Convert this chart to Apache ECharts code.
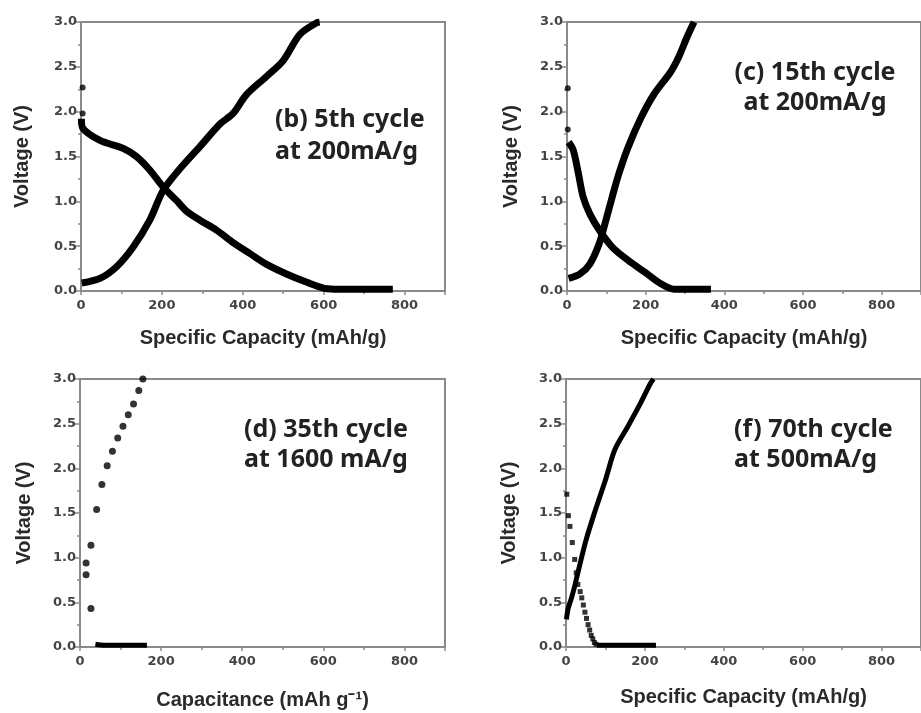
<!DOCTYPE html>
<html>
<head>
<meta charset="utf-8">
<script src="https://cdn.jsdelivr.net/npm/echarts@6/dist/echarts.min.js"></script>
<style>
  html, body { margin: 0; padding: 0; background: #fff; }
  #chart { width: 921px; height: 713px; }
</style>
</head>
<body>
<div id="chart"></div>
<script>
// (b) 5th cycle at 200 mA/g
const bDots = [[4, 2.27], [4, 1.98]]
const bDischarge = [[1, 1.92], [4, 1.82], [47, 1.68], [105, 1.59], [137, 1.50], [170, 1.35], [203, 1.16], [236, 1.01], [261, 0.89], [294, 0.79], [335, 0.68], [376, 0.54], [417, 0.42], [458, 0.30], [508, 0.19], [557, 0.10], [602, 0.03], [640, 0.02], [771, 0.02]]
const bCharge = [[2, 0.09], [47, 0.14], [88, 0.27], [129, 0.49], [170, 0.79], [203, 1.12], [244, 1.36], [294, 1.61], [343, 1.86], [376, 1.98], [409, 2.19], [458, 2.39], [500, 2.57], [541, 2.86], [582, 2.99], [590, 3.0]]

// (c) 15th cycle at 200 mA/g
const cDots = [[2, 2.26], [2, 1.80]]
const cDischarge = [[4, 1.66], [16, 1.57], [29, 1.31], [41, 1.05], [58, 0.86], [82, 0.68], [115, 0.49], [156, 0.34], [198, 0.21], [239, 0.08], [272, 0.02], [366, 0.02]]
const cCharge = [[4, 0.14], [33, 0.19], [58, 0.30], [82, 0.53], [99, 0.79], [115, 1.05], [132, 1.31], [156, 1.61], [189, 1.94], [222, 2.20], [263, 2.44], [284, 2.61], [305, 2.83], [323, 3.0]]

// (d) 35th cycle at 1600 mA/g
const dPoints = [[15, 0.94], [15, 0.81], [27, 1.14], [27, 0.43], [41, 1.54], [54, 1.82], [67, 2.03], [80, 2.19], [93, 2.34], [106, 2.47], [119, 2.60], [132, 2.72], [145, 2.87], [155, 3.0]]
const dFlat = [[38, 0.03], [60, 0.02], [100, 0.02], [140, 0.02], [165, 0.02]]

// (f) 70th cycle at 500 mA/g
const fDischargeDots = [[2, 1.71], [6, 1.47], [10, 1.35], [16, 1.17], [22, 0.98], [26, 0.83], [30, 0.70], [36, 0.62], [40, 0.55], [44, 0.47], [48, 0.39], [52, 0.32], [56, 0.25], [60, 0.19], [64, 0.13], [68, 0.09], [72, 0.05], [76, 0.03]]
const fDischargeFlat = [[78, 0.02], [120, 0.02], [180, 0.02], [228, 0.02]]
const fCharge = [[1, 0.31], [6, 0.44], [14, 0.55], [22, 0.68], [30, 0.83], [51, 1.20], [75, 1.54], [100, 1.87], [124, 2.21], [157, 2.47], [189, 2.73], [214, 2.95], [222, 3.0]]

const xTicks = [0, 200, 400, 600, 800]
const yTicks = [0.0, 0.5, 1.0, 1.5, 2.0, 2.5, 3.0]

const xNames = ['Specific Capacity (mAh/g)', 'Specific Capacity (mAh/g)', 'Capacitance (mAh g⁻¹)', 'Specific Capacity (mAh/g)']
const yName = 'Voltage (V)'

const grids = [
    { left: 81, top: 22, width: 364, height: 269 },
    { left: 567, top: 22, width: 364, height: 269 },
    { left: 80, top: 379, width: 365, height: 268 },
    { left: 566, top: 379, width: 365, height: 268 }
]
const xNameGaps = [37, 37, 43, 40]
const yNameGaps = [49, 46, 46, 47]

const axisGray = '#8a8a8a'
const labelFont = 'Liberation Sans, Arial, sans-serif'
const tickFont = 'DejaVu Sans, sans-serif'

const chart = echarts.init(document.getElementById('chart'))

const xAxes = grids.map((g, i) => ({
    type: 'value',
    gridIndex: i,
    min: 0,
    max: 900,
    interval: xTicks[1] - xTicks[0],
    name: xNames[i],
    nameLocation: 'middle',
    nameGap: xNameGaps[i],
    nameTextStyle: { fontFamily: labelFont, fontWeight: 'bold', fontSize: 20, color: '#2a2a2a' },
    axisLine: { show: true, lineStyle: { color: axisGray, width: 2 } },
    axisTick: { show: true, length: 4, lineStyle: { color: axisGray, width: 1.5 } },
    minorTick: { show: true, splitNumber: 2, length: 3, lineStyle: { color: axisGray, width: 1.5 } },
    splitLine: { show: false },
    axisLabel: {
        showMaxLabel: false,
        fontFamily: tickFont, fontWeight: 'bold', fontSize: 13, color: '#444', margin: 8,
        formatter: v => xTicks.includes(v) ? String(v) : ''
    }
}))

const yAxes = grids.map((g, i) => ({
    type: 'value',
    gridIndex: i,
    min: 0,
    max: 3,
    interval: 0.5,
    name: yName,
    nameLocation: 'middle',
    nameRotate: 90,
    nameGap: yNameGaps[i],
    nameTextStyle: { fontFamily: labelFont, fontWeight: 'bold', fontSize: 20, color: '#2a2a2a' },
    axisLine: { show: true, lineStyle: { color: axisGray, width: 2 } },
    axisTick: { show: true, length: 5, lineStyle: { color: axisGray, width: 1.5 } },
    minorTick: { show: true, splitNumber: 2, length: 3, lineStyle: { color: axisGray, width: 1.5 } },
    splitLine: { show: false },
    axisLabel: {
        fontFamily: tickFont, fontWeight: 'bold', fontSize: 13, color: '#444', margin: 4,
        formatter: v => yTicks.includes(v) ? v.toFixed(1) : ''
    }
}))

const thickLine = (data, i, w) => ({
    type: 'line', xAxisIndex: i, yAxisIndex: i, data,
    smooth: 0.3, showSymbol: false, symbol: 'none',
    lineStyle: { color: '#000', width: w }
})
const dots = (data, i, size, shape) => ({
    type: 'scatter', xAxisIndex: i, yAxisIndex: i, data,
    symbol: shape || 'circle', symbolSize: size,
    itemStyle: { color: '#000' }
})

const series = [
    thickLine(bDischarge, 0, 7),
    thickLine(bCharge, 0, 7),
    dots(bDots, 0, 6),
    thickLine(cDischarge, 1, 7),
    thickLine(cCharge, 1, 7),
    dots(cDots, 1, 6),
    dots(dPoints, 2, 7),
    thickLine(dFlat, 2, 5),
    dots(fDischargeDots, 3, 5, 'rect'),
    thickLine(fDischargeFlat, 3, 5),
    thickLine(fCharge, 3, 5)
]

const noteStyle = { fontFamily: 'Noto Sans, sans-serif', fontWeight: 'bold', fontSize: 25, fill: '#222', textVerticalAlign: 'middle' }
const note = (x, y, text, align) => ({
    type: 'text', x, y, z: 10,
    style: Object.assign({ text, textAlign: align || 'left' }, noteStyle)
})

chart.setOption({
    animation: false,
    grid: grids.map(g => Object.assign({ show: true, borderColor: axisGray, borderWidth: 2, backgroundColor: 'transparent' }, g)),
    xAxis: xAxes,
    yAxis: yAxes,
    series,
    graphic: [
        note(275, 120, '(b) 5th cycle'),
        note(275, 152, 'at 200mA/g'),
        note(815, 73, '(c) 15th cycle', 'center'),
        note(815, 103, 'at 200mA/g', 'center'),
        note(244, 430, '(d) 35th cycle'),
        note(244, 460, 'at 1600 mA/g'),
        note(734, 430, '(f) 70th cycle'),
        note(734, 460, 'at 500mA/g')
    ]
})
</script>
</body>
</html>
